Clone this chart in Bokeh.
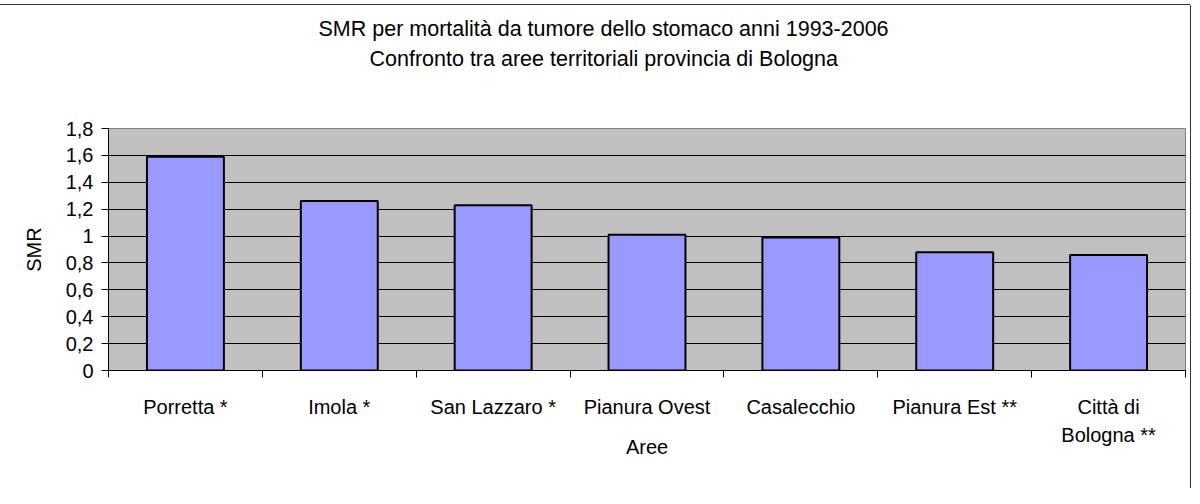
from bokeh.plotting import figure
from bokeh.models import FixedTicker, CustomJSTickFormatter, Range1d, Title, ColumnDataSource
from bokeh.embed import file_html
from bokeh.resources import INLINE

categories = ["Porretta *", "Imola *", "San Lazzaro *", "Pianura Ovest", "Casalecchio", "Pianura Est **", "Città di\nBologna **"]
smr = [1.59, 1.26, 1.23, 1.01, 0.99, 0.88, 0.86]
y_ticks = [0, 0.2, 0.4, 0.6, 0.8, 1.0, 1.2, 1.4, 1.6, 1.8]
title_lines = ["SMR per mortalità da tumore dello stomaco anni 1993-2006",
               "Confronto tra aree territoriali provincia di Bologna"]

FONT = "Liberation Sans"
FS = "20px"
TFS = "21.5px"

xs = [i + 0.5 for i in range(len(categories))]
src = ColumnDataSource(dict(x=xs, top=smr))

p = figure(width=1190, height=483, output_backend="svg", toolbar_location=None,
           x_range=Range1d(0, len(categories)), y_range=Range1d(0, 1.8),
           min_border_left=108, min_border_right=5, min_border_top=123, min_border_bottom=118)
p.background_fill_color = "#C0C0C0"
p.border_fill_color = "white"
p.outline_line_color = "#808080"
p.outline_line_width = 1
p.styles = {"margin-top": "5px",
            "box-shadow": "-1px 0 0 0 #333, 1px 0 0 0 #333, 0 -1px 0 0 #333"}

p.vbar(x="x", top="top", width=0.5, bottom=0, source=src,
       fill_color="#9999FF", line_color="black", line_width=2)

# spacer between the plot and the two title lines (closest panel)
p.add_layout(Title(text=" ", text_font_size="2px", standoff=52), "above")
# second title line (next panel out)
p.add_layout(Title(text=title_lines[1], align="left", offset=261,
                   text_font=FONT, text_font_size=TFS, text_font_style="normal",
                   text_color="black", standoff=4), "above")
# first title line (outermost)
p.title.text = title_lines[0]
p.title.align = "left"
p.title.offset = 210
p.title.text_font = FONT
p.title.text_font_size = TFS
p.title.text_font_style = "normal"
p.title.text_color = "black"
p.title.standoff = 4

# y axis
p.yaxis.ticker = FixedTicker(ticks=y_ticks)
p.yaxis.formatter = CustomJSTickFormatter(code="var s=(Math.round(tick*10)/10).toString(); return s.replace('.', ',');")
p.yaxis.major_tick_out = 7
p.yaxis.major_tick_in = 0
p.yaxis.minor_tick_line_color = None
p.yaxis.major_label_text_font = FONT
p.yaxis.major_label_text_font_size = FS
p.yaxis.major_label_text_color = "black"
p.yaxis.major_label_standoff = 8
p.yaxis.axis_label = "SMR"
p.yaxis.axis_label_text_font = FONT
p.yaxis.axis_label_text_font_size = FS
p.yaxis.axis_label_text_font_style = "normal"
p.yaxis.axis_label_text_color = "black"
p.yaxis.axis_label_standoff = 18
p.yaxis.axis_line_color = "black"
p.yaxis.major_tick_line_color = "black"

# x axis
p.xaxis.ticker = FixedTicker(ticks=xs, minor_ticks=list(range(len(categories) + 1)))
p.xaxis.major_label_overrides = {x: c for x, c in zip(xs, categories)}
p.xaxis.major_tick_line_color = None
p.xaxis.major_tick_out = 0
p.xaxis.major_tick_in = 0
p.xaxis.minor_tick_out = 7
p.xaxis.minor_tick_in = 0
p.xaxis.minor_tick_line_color = "black"
p.xaxis.major_label_text_font = FONT
p.xaxis.major_label_text_font_size = FS
p.xaxis.major_label_text_line_height = 1.3
p.xaxis.major_label_text_color = "black"
p.xaxis.major_label_standoff = 18
p.xaxis.axis_label = "Aree"
p.xaxis.axis_label_text_font = FONT
p.xaxis.axis_label_text_font_size = FS
p.xaxis.axis_label_text_font_style = "normal"
p.xaxis.axis_label_text_color = "black"
p.xaxis.axis_label_standoff = -13
p.xaxis.axis_line_color = "black"

p.xgrid.grid_line_color = None
p.ygrid.ticker = FixedTicker(ticks=y_ticks)
p.ygrid.grid_line_color = "black"
p.ygrid.grid_line_width = 1

open("out.html", "w").write(file_html(p, INLINE))
